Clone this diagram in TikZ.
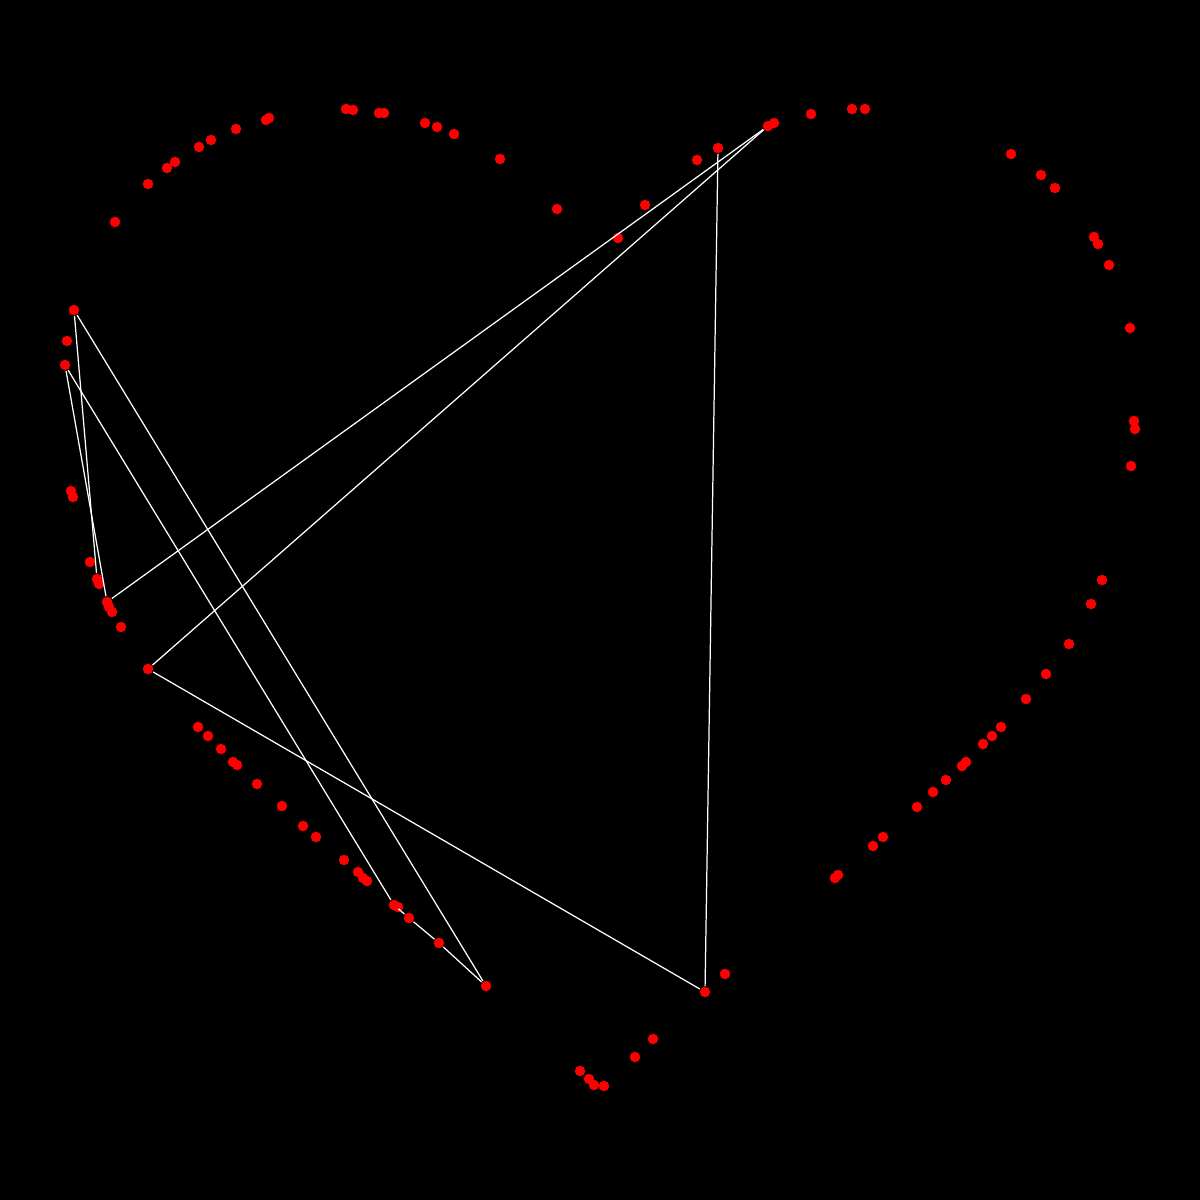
\documentclass[tikz,border=0pt]{standalone}
\begin{document}
\begin{tikzpicture}[x=0.01cm, y=-0.01cm, dot/.style = {circle, fill=red, inner sep=0pt, minimum size=1.05mm}, link/.style = {white, line width=0.35pt}]
\fill[black] (0,0) rectangle (1200,1200);
% upper arc
\node[dot] (1) at (115,222) {};
\node[dot] (2) at (148,184) {};
\node[dot] (3) at (167,168) {};
\node[dot] (4) at (175,162) {};
\node[dot] (5) at (199,147) {};
\node[dot] (6) at (211,140) {};
\node[dot] (7) at (236,129) {};
\node[dot] (8) at (266,120) {};
\node[dot] (9) at (269,118) {};
\node[dot] (10) at (346,109) {};
\node[dot] (11) at (353,110) {};
\node[dot] (12) at (379,113) {};
\node[dot] (13) at (384,113) {};
\node[dot] (14) at (425,123) {};
\node[dot] (15) at (437,127) {};
\node[dot] (16) at (454,134) {};
\node[dot] (17) at (500,159) {};
\node[dot] (18) at (557,209) {};
\node[dot] (19) at (618,238) {};
\node[dot] (20) at (645,205) {};
\node[dot] (21) at (697,160) {};
\node[dot] (22) at (718,148) {};
\node[dot] (23) at (768,126) {};
\node[dot] (24) at (774,123) {};
\node[dot] (25) at (811,114) {};
\node[dot] (26) at (852,109) {};
\node[dot] (27) at (865,109) {};
% right arc
\node[dot] (28) at (1011,154) {};
\node[dot] (29) at (1041,175) {};
\node[dot] (30) at (1055,188) {};
\node[dot] (31) at (1094,237) {};
\node[dot] (32) at (1098,244) {};
\node[dot] (33) at (1109,265) {};
\node[dot] (34) at (1130,328) {};
\node[dot] (35) at (1134,421) {};
\node[dot] (36) at (1135,429) {};
\node[dot] (37) at (1131,466) {};
\node[dot] (38) at (1102,580) {};
\node[dot] (39) at (1091,604) {};
\node[dot] (40) at (1069,644) {};
\node[dot] (41) at (1046,674) {};
\node[dot] (42) at (1026,699) {};
\node[dot] (43) at (1001,727) {};
\node[dot] (44) at (992,736) {};
\node[dot] (45) at (983,744) {};
\node[dot] (46) at (966,762) {};
\node[dot] (47) at (962,766) {};
\node[dot] (48) at (946,780) {};
\node[dot] (49) at (933,792) {};
\node[dot] (50) at (917,807) {};
\node[dot] (51) at (883,837) {};
\node[dot] (52) at (873,846) {};
\node[dot] (53) at (838,875) {};
\node[dot] (54) at (835,878) {};
% bottom
\node[dot] (55) at (725,974) {};
\node[dot] (56) at (705,992) {};
\node[dot] (57) at (653,1039) {};
\node[dot] (58) at (635,1057) {};
\node[dot] (59) at (604,1086) {};
\node[dot] (60) at (594,1085) {};
\node[dot] (61) at (589,1079) {};
\node[dot] (62) at (580,1071) {};
% lower left arc
\node[dot] (63) at (486,986) {};
\node[dot] (64) at (439,943) {};
\node[dot] (65) at (409,918) {};
\node[dot] (66) at (398,907) {};
\node[dot] (67) at (394,905) {};
\node[dot] (68) at (367,881) {};
\node[dot] (69) at (363,878) {};
\node[dot] (70) at (358,872) {};
\node[dot] (71) at (344,860) {};
\node[dot] (72) at (316,837) {};
\node[dot] (73) at (303,826) {};
\node[dot] (74) at (282,806) {};
\node[dot] (75) at (257,784) {};
\node[dot] (76) at (237,765) {};
\node[dot] (77) at (233,762) {};
\node[dot] (78) at (221,749) {};
\node[dot] (79) at (208,736) {};
\node[dot] (80) at (198,727) {};
\node[dot] (81) at (148,669) {};
% left side
\node[dot] (82) at (121,627) {};
\node[dot] (83) at (112,612) {};
\node[dot] (84) at (109,607) {};
\node[dot] (85) at (107,602) {};
\node[dot] (86) at (99,584) {};
\node[dot] (87) at (97,579) {};
\node[dot] (88) at (90,562) {};
\node[dot] (89) at (73,497) {};
\node[dot] (90) at (71,491) {};
\node[dot] (91) at (65,365) {};
\node[dot] (92) at (67,341) {};
\node[dot] (93) at (74,310) {};

\draw[link] (93) -- (87);
\draw[link] (91) -- (85);
\draw[link] (93) -- (63);
\draw[link] (91) -- (67);
\draw[link] (67) -- (65) -- (64) -- (63);
\draw[link] (85) -- (23);
\draw[link] (81) -- (23);
\draw[link] (81) -- (56);
\draw[link] (56) -- (22);
\end{tikzpicture}
\end{document}
